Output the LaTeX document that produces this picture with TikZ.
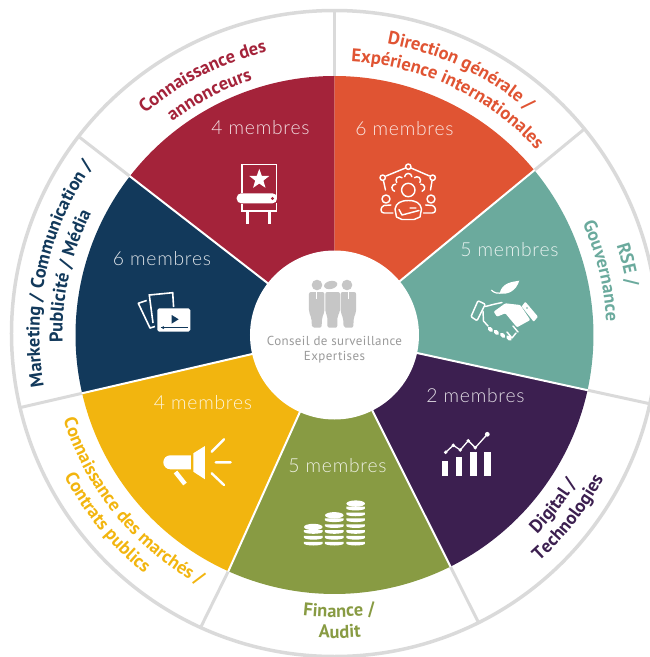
\documentclass[tikz,border=0pt]{standalone}
\usepackage{fontspec}
\setmainfont{PT Sans}
\newfontfamily\lightf[UprightFont=* Light,LetterSpace=4]{Lato}
\newfontfamily\centf[LetterSpace=3]{PT Sans}
\usetikzlibrary{decorations.text}
\definecolor{ccrim}{HTML}{A4233A}
\definecolor{cred}{HTML}{E05433}
\definecolor{cteal}{HTML}{6BAA9D}
\definecolor{cpurp}{HTML}{3C1F50}
\definecolor{colive}{HTML}{889B43}
\definecolor{cyell}{HTML}{F2B50F}
\definecolor{cnavy}{HTML}{12395B}
\definecolor{cring}{HTML}{DADADA}
\definecolor{cpers}{HTML}{C6C6C6}
\definecolor{ctext}{HTML}{9A9A9A}
\newcommand{\lab}{\fontsize{18.4}{20}\selectfont\bfseries}
% clockwise label: angle, radius, colour, text
\newcommand{\cwlabel}[4]{%
  \pgfmathsetmacro{\aa}{#1+70}\pgfmathsetmacro{\ab}{#1-70}%
  \path[decorate,decoration={text along path,text align=center,text={|\lab\color{#3}|#4}}]
    (\aa:#2pt) arc[start angle=\aa,end angle=\ab,radius=#2pt];}
\newcommand{\ccwlabel}[4]{%
  \pgfmathsetmacro{\aa}{#1-70}\pgfmathsetmacro{\ab}{#1+70}%
  \path[decorate,decoration={text along path,text align=center,text={|\lab\color{#3}|#4}}]
    (\aa:#2pt) arc[start angle=\aa,end angle=\ab,radius=#2pt];}
\newcommand{\sector}[3]{\fill[#3] (#1:80pt) -- (#1:259pt) arc[start angle=#1,end angle=#2,radius=259pt] -- (#2:80pt) -- cycle;}
\tikzset{
  memb/.style={text=white,text opacity=.85,font=\lightf\fontsize{19.3}{21}\selectfont,inner sep=0pt},
  spokeout/.style={draw=cring,line width=3pt},
  spokein/.style={draw=white,line width=2pt},
  ico/.style={draw=white,line width=1.45pt,line cap=round,line join=round},
  centertext/.style={text=ctext,font=\centf\fontsize{13}{15}\selectfont,inner sep=0pt}
}
\begin{document}
\begin{tikzpicture}[x=1pt,y=1pt]
\useasboundingbox (-334.5,-322) rectangle (315.5,335);
% outer ring and spokes
\draw[cring,line width=3.5pt] (0,1.5) circle[radius=323pt];
\foreach \a/\b in {90/90,39.5/39.5,-12.3/-12.3,-63.4/-63.4,-114.2/-114.6,-167/-167,142.2/142.2}
  \draw[spokeout] (\a:258pt) -- (\b:323pt);
% sectors
\sector{39.5}{90}{cred}
\sector{90}{142.2}{ccrim}
\sector{142.2}{193}{cnavy}
\sector{193}{245.8}{cyell}
\sector{245.8}{296.6}{colive}
\sector{296.6}{347.7}{cpurp}
\sector{347.7}{399.5}{cteal}
\foreach \a in {39.5,-12.3,-63.4,-114.2,-167,142.2}
  \draw[spokein] (\a:80pt) -- (\a:259.5pt);
\fill[white] (0,0) circle[radius=84.5pt];
% curved labels
\cwlabel{64.5}{296}{cred}{Direction générale /}
\cwlabel{64.5}{274}{cred}{Expérience internationales}
\cwlabel{117}{291}{ccrim}{Connaissance des}
\cwlabel{117.5}{268}{ccrim}{annonceurs}
\cwlabel{13.5}{296}{cteal}{RSE /}
\cwlabel{13.5}{272}{cteal}{Gouvernance}
\ccwlabel{-38}{284}{cpurp}{Digital /}
\ccwlabel{-38}{305}{cpurp}{Technologies}
\ccwlabel{-89}{282}{colive}{Finance /}
\ccwlabel{-89}{303}{colive}{Audit}
\ccwlabel{-140.5}{284}{cyell}{Connaissance des marchés /}
\ccwlabel{-140.5}{305}{cyell}{Contrats publics}
\cwlabel{167.5}{295}{cnavy}{Marketing / Communication /}
\cwlabel{167.5}{272}{cnavy}{Publicité / Média}
\begin{scope}[shift={(-334.5pt,335pt)},y=-1pt]
% member counts
\node[memb] (m1) at (260.5,127.5) {4 membres};
\node[memb] (m2) at (404.5,128.5) {6 membres};
\node[memb] (m3) at (509.5,249.5) {5 membres};
\node[memb] (m4) at (475.5,395.5) {2 membres};
\node[memb] (m5) at (337.5,465.5) {5 membres};
\node[memb] (m6) at (203,402.5) {4 membres};
\node[memb] (m7) at (162,258.5) {6 membres};
% centre
\node[centertext] (c1) at (334.5,341) {Conseil de surveillance};
\node[centertext] (c2) at (334.5,357.5) {Expertises};
\fill[cpers] (317,285) circle[radius=5.3pt];
\fill[cpers] (347,285) circle[radius=5.3pt];
\fill[cpers,rotate around={12:(330.7,285)}] (330.7,285) ellipse[x radius=6.7pt,y radius=4pt];
\foreach \x in {309,340.7}{
  \fill[cpers,rounded corners=2pt] (\x,292) -- (\x+15.4,292) -- (\x+15.4,312) -- (\x+13,318) -- (\x+12.6,327.7) -- (\x+3,327.7) -- (\x+2.4,318) -- (\x,312) -- cycle;
  \draw[white,line width=.7pt] (\x+7.7,292) -- (\x+7.7,299);
}
\fill[cpers,rounded corners=2pt] (325.3,292) -- (340,292) -- (340,312) -- (337.5,316) -- (337.3,327.7) -- (327.5,327.7) -- (327.3,316) -- (325.3,312) -- cycle;
% crimson icon: board with star and scroll
\draw[white,line width=1.2pt] (242,193) -- (242,164.5) -- (276.5,164.5) -- (276.5,198);
\fill[white] (259.3,168.8) -- (261.8,175.8) -- (269.3,176) -- (263.4,180.6) -- (265.5,187.8) -- (259.3,183.6) -- (253.1,187.8) -- (255.2,180.6) -- (249.3,176) -- (256.8,175.8) -- cycle;
\fill[white,rounded corners=4.5pt] (236.7,193.3) rectangle (277,203.3);
\fill[ccrim] (272.5,198.5) circle[radius=1.7pt];
\draw[white,line width=1.2pt] (242,204) -- (242,211) -- (276.5,211) -- (276.5,203);
\draw[white,line width=3pt] (247.7,211) -- (247.7,224) (270,211) -- (270,224);
% navy icon: photos and video
\draw[white,line width=1.6pt,line join=miter] (153,323) -- (149.3,295) -- (172.7,292.7) -- (173.6,307);
\draw[white,line width=1.6pt,line join=round] (146.7,300.5) -- (138.3,303.3) -- (150,328) -- (155,326.5);
\fill[white,rounded corners=1.8pt] (157.3,308.3) rectangle (190.3,331.7);
\fill[cnavy] (171.7,315) -- (178.7,319.3) -- (171.7,323.6) -- cycle;
\draw[cnavy,line width=.8pt] (160.7,327.7) -- (188.3,327.7);
\fill[cnavy] (163.3,327.7) circle[radius=1.5pt];
% yellow icon: megaphone
\fill[white] (170.3,455.3) arc[start angle=90,end angle=270,radius=7pt] -- (191,469.3) -- (191,455.3) -- cycle;
\fill[white] (193.3,453.3) -- (205,446) -- (205,479.3) -- (193.3,471.7) -- cycle;
\draw[white,line width=2.4pt,line cap=round] (211.7,451.7) -- (224,439.3) (215.7,462.3) -- (230.7,462.3) (211.7,473.3) -- (224,485);
\draw[white,line width=4.5pt] (175.5,472) -- (185,484);
% olive icon: coins
\foreach \cx/\n in {313.3/3,334.3/5,355.7/7}{
  \foreach \i in {1,...,\n}{
    \pgfmathsetmacro{\yy}{545-(\i-1)*5.85}
    \fill[white] (\cx-9.3,\yy-3.2) -- (\cx+9.3,\yy-3.2) -- (\cx+9.3,\yy-1.5) arc[start angle=0,end angle=-180,x radius=9.3pt,y radius=2pt] -- cycle;
  }
  \pgfmathsetmacro{\yt}{545-(\n-1)*5.85-5}
  \fill[white] (\cx,\yt-1.3) ellipse[x radius=9.3pt,y radius=3.2pt];
}
% purple icon: chart
\fill[white] (442.3,460.7) rectangle (447.7,476);
\fill[white] (456,456.7) rectangle (462.3,476);
\fill[white] (470,452.3) rectangle (476.7,476);
\fill[white] (484,452.3) rectangle (491,476);
\draw[white,line width=1.3pt] (445.7,452.3) -- (453.3,445.3) -- (460.3,450) -- (468.3,440.7) -- (475.3,447.7) -- (487.3,434.3);
\foreach \p in {(445.7,452.3),(453.3,445.3),(460.3,450),(468.3,440.7),(475.3,447.7)}
  \fill[white] \p circle[radius=1.9pt];
\fill[white] (487.3,434.3) circle[radius=2.4pt];
% red icon: team
\foreach \p in {(408.3,166.7),(382.7,177.7),(432.7,177.7)}
  \draw[ico] \p circle[radius=2.7pt];
\draw[ico] (405.5,168) -- (386,176) (411,168) -- (429.5,176);
\draw[ico] (383.5,181) -- (385.5,190) (432,181) -- (430.5,190);
\draw[ico] (408.3,190) circle[radius=6.7pt];
\begin{scope}[shift={(408.3,190)}]
\foreach \a in {10,48,90,132,170}
  \draw[ico] (\a:13pt) ++(\a-85:3.6pt) arc[start angle=\a-85,end angle=\a+85,radius=3.6pt];
\end{scope}
\draw[ico] (396.5,217) -- (395,209) .. controls (396,203) and (401,200.5) .. (408.3,200.5) .. controls (416,200.5) and (420.5,203) .. (421.5,209) -- (420,217) -- (414,219.5) -- (402,219.5) -- cycle;
\draw[ico] (399,209.5) -- (402,215) -- (419,210.5) (410,208) -- (416,208);
\draw[ico] (386,199) circle[radius=4pt] (431,199) circle[radius=4pt];
\draw[ico] (393,213) -- (384,213) .. controls (380,213) and (380,207) .. (384,205.5) -- (391,205);
\draw[ico] (423.5,213) -- (432.5,213) .. controls (436.5,213) and (436.5,207) .. (432.5,205.5) -- (425.5,205);
% teal icon: handshake and leaf
\fill[white] (519.3,280.7) .. controls (511,282) and (502,283) .. (499.7,293.3) .. controls (508,295) and (516,291) .. cycle;
\draw[white,line width=1.2pt] (491.3,290) .. controls (494,293) and (498,294) .. (503,292.5);
\draw[ico,rounded corners=1pt] (478,300.7) -- (485.3,304.3) -- (477,320.7) -- (471,316.7) -- cycle;
\fill[white,rounded corners=.8pt] (525.3,301.7) -- (538,316.7) -- (533.7,321.7) -- (521.7,306.5) -- cycle;
\fill[cteal] (527,308) circle[radius=.9pt];
\fill[white,rounded corners=1pt] (493.7,311.7) -- (505.3,303.3) -- (520.3,305) -- (530.3,320) -- (517,327.3) -- (505.3,313.3) -- (497,316.7) -- cycle;
\draw[ico] (485.5,306.5) -- (493,304.5) -- (502,302.5);
\draw[ico] (483,311) -- (483.5,321) -- (488,326);
\draw[ico] (513,326) -- (518,332) (507,332) -- (512,338) -- (516,333);
\draw[white,line width=3.6pt,line cap=round] (489.3,328.3) -- (491.3,330.3) (495.3,331.3) -- (497.3,333.3) (501.7,334.3) -- (503.7,336.3) (508,337) -- (510,339);
\end{scope}
\end{tikzpicture}
\end{document}
